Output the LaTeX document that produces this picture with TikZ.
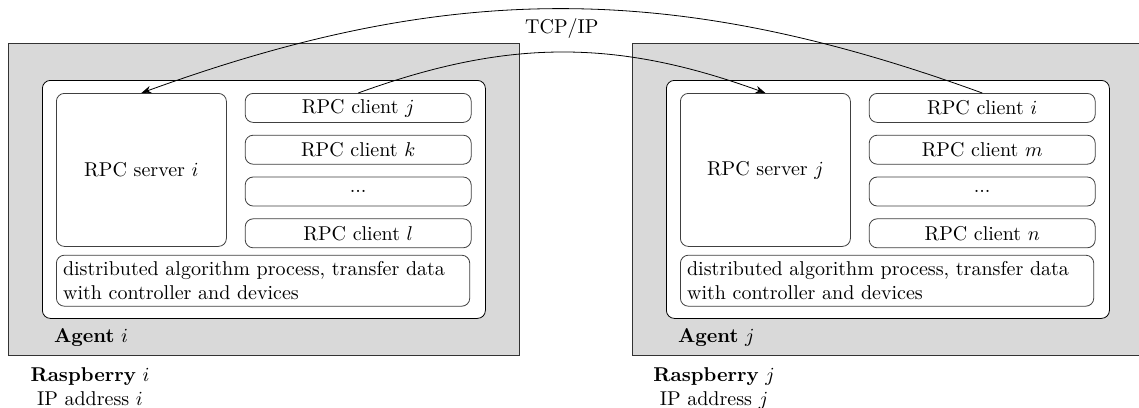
\documentclass[tikz,border=0pt]{standalone}
\usepackage{xcolor}
\usepackage{tikz}
\usetikzlibrary{arrows.meta,positioning}

\begin{document}
\begin{tikzpicture}[
                every node/.style={font=\normalsize},
                host/.style={draw=black!80, fill=gray!30, inner sep=0pt, anchor=north west},
                agent/.style={draw, rounded corners, fill=white, inner sep=0pt, anchor=north west},
                server/.style={draw=black!75, rounded corners, fill=white, align=center, minimum width=85pt, minimum height=76.5pt, anchor=north west},
                client/.style={draw=black!75, rounded corners, fill=white, align=center, inner ysep=2.5pt, minimum width=113pt, minimum height=14.5pt},
                proc/.style={draw=black!75, rounded corners, fill=white, align=left, inner ysep=2pt, text width=200pt, minimum height=25.5pt, anchor=north west},
                rel/.style={-{Stealth[length=5pt]}},
                hostlabel/.style={align=center, anchor=north}
            ]
                \useasboundingbox (0,0) rectangle (569.5pt,-203.5pt);

                % Raspberry i (left)
                \node[host, minimum width=255.5pt, minimum height=156pt] (hosti) at (4pt,-21.5pt) {};
                \node[agent, minimum width=221.5pt, minimum height=119pt] (agenti) at ([xshift=17pt,yshift=-18.5pt]hosti.north west) {};
                \node[server] (serveri) at ([xshift=7pt,yshift=-6.5pt]agenti.north west) {RPC server $i$};
                \node[client, anchor=north west] (clientij) at ([xshift=9pt]serveri.north east) {RPC client $j$};
                \node[client, below=6pt of clientij] (clientik) {RPC client $k$};
                \node[client, below=6pt of clientik] (dotsi) {...};
                \node[client, below=6pt of dotsi] (clientil) {RPC client $l$};
                \node[proc] (proci) at ([yshift=-4pt]serveri.south west) {distributed algorithm process, transfer data with controller and devices};
                \node[anchor=north west] (agentlabeli) at ([xshift=2.5pt,yshift=-1.5pt]agenti.south west) {\textbf{Agent} $i$};
                \node[hostlabel] (hostlabeli) at ([xshift=41pt,yshift=-2.5pt]hosti.south west) {\textbf{Raspberry} $i$\\IP address $i$};

                % Raspberry j (right)
                \node[host, minimum width=255.5pt, minimum height=156pt] (hostj) at (316pt,-21.5pt) {};
                \node[agent, minimum width=221.5pt, minimum height=119pt] (agentj) at ([xshift=17pt,yshift=-18.5pt]hostj.north west) {};
                \node[server] (serverj) at ([xshift=7pt,yshift=-6.5pt]agentj.north west) {RPC server $j$};
                \node[client, anchor=north west] (clientji) at ([xshift=9pt]serverj.north east) {RPC client $i$};
                \node[client, below=6pt of clientji] (clientjm) {RPC client $m$};
                \node[client, below=6pt of clientjm] (dotsj) {...};
                \node[client, below=6pt of dotsj] (clientjn) {RPC client $n$};
                \node[proc] (procj) at ([yshift=-4pt]serverj.south west) {distributed algorithm process, transfer data with controller and devices};
                \node[anchor=north west] (agentlabelj) at ([xshift=2.5pt,yshift=-1.5pt]agentj.south west) {\textbf{Agent} $j$};
                \node[hostlabel] (hostlabelj) at ([xshift=41pt,yshift=-2.5pt]hostj.south west) {\textbf{Raspberry} $j$\\IP address $j$};

                % TCP/IP links between clients and servers
                \draw[rel] (clientji.north) to[bend right=20] node[below, yshift=-1.5pt]{TCP/IP} (serveri.north);
                \draw[rel] (clientij.north) to[bend left=20] (serverj.north);

            \end{tikzpicture}
\end{document}
